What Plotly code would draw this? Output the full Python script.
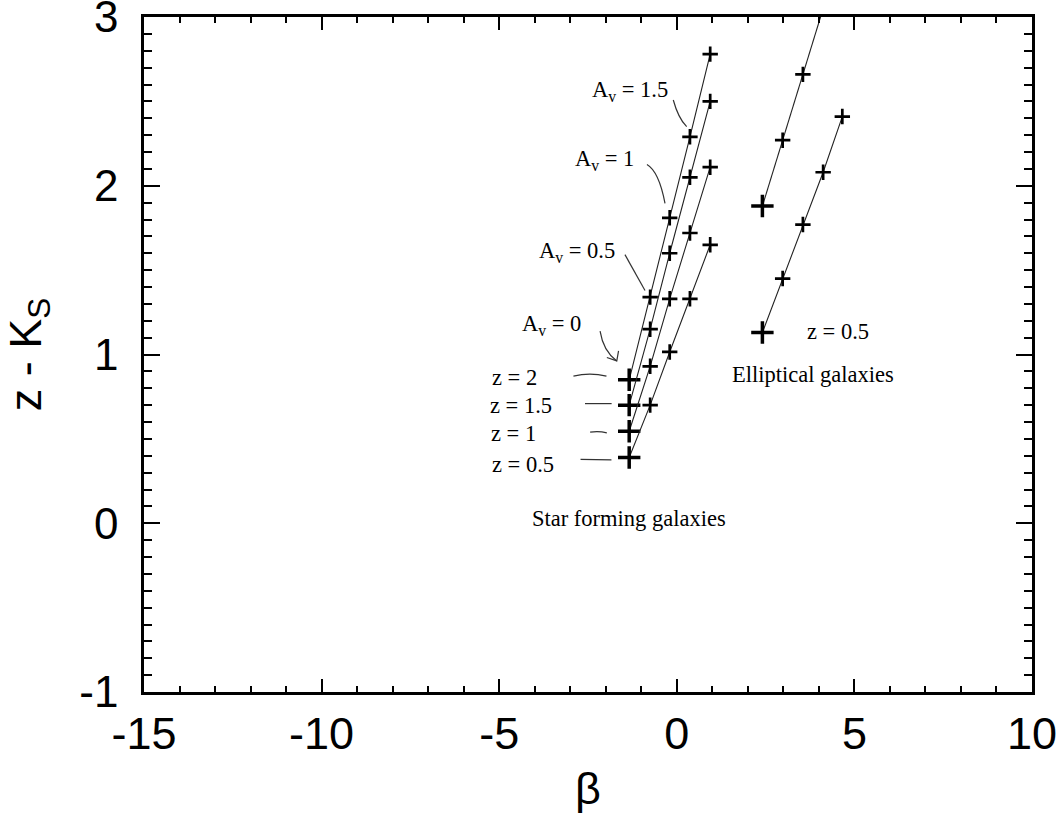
import plotly.graph_objects as go

# ---------------- data ----------------
# Star forming galaxies: reddening tracks, Av = 0, 0.5, 1, 1.5, 2
av_values = [0, 0.5, 1, 1.5, 2]
sf_beta = [-1.34, -0.75, -0.20, 0.37, 0.94]
sf_zk_z2 = [0.85, 1.34, 1.81, 2.29, 2.78]
sf_zk_z15 = [0.70, 1.15, 1.60, 2.05, 2.50]
sf_zk_z1 = [0.545, 0.93, 1.33, 1.72, 2.11]
sf_zk_z05 = [0.39, 0.70, 1.015, 1.33, 1.65]

# Elliptical galaxies
ell_a_beta = [2.41, 2.98, 3.55, 4.12]
ell_a_zk = [1.88, 2.27, 2.66, 3.05]
ell_b_beta = [2.41, 2.98, 3.55, 4.12, 4.66]
ell_b_zk = [1.13, 1.45, 1.77, 2.08, 2.41]

x_ticks = [-15, -10, -5, 0, 5, 10]
y_ticks = [-1, 0, 1, 2, 3]

# ---------------- figure ----------------
fig = go.Figure()

def track(xs, ys):
    fig.add_trace(go.Scatter(
        x=xs, y=ys, mode="lines",
        line=dict(color="#222222", width=1.1),
        cliponaxis=True, showlegend=False, hoverinfo="skip"))
    fig.add_trace(go.Scatter(
        x=xs[1:], y=ys[1:], mode="markers",
        marker=dict(symbol="cross-thin", size=11, color="black",
                    line=dict(color="black", width=2.7)),
        cliponaxis=True, showlegend=False, hoverinfo="skip"))
    fig.add_trace(go.Scatter(
        x=xs[:1], y=ys[:1], mode="markers",
        marker=dict(symbol="cross-thin", size=16, color="black",
                    line=dict(color="black", width=3.5)),
        cliponaxis=True, showlegend=False, hoverinfo="skip"))

for ys in [sf_zk_z2, sf_zk_z15, sf_zk_z1, sf_zk_z05]:
    track(sf_beta, ys)
track(ell_a_beta, ell_a_zk)
track(ell_b_beta, ell_b_zk)

serif = dict(family="Liberation Serif, Times New Roman, serif", size=22.5, color="black")

def label(x, y, text, xanchor="left"):
    fig.add_annotation(x=x, y=y, xref="x", yref="y", text=text, showarrow=False,
                       xanchor=xanchor, yanchor="middle", font=serif)

label(-5.26, 0.863, "z = 2")
label(-5.31, 0.696, "z = 1.5")
label(-5.29, 0.532, "z = 1")
label(-5.26, 0.351, "z = 0.5")
label(-4.41, 1.174, "A<sub>v</sub> = 0")
label(-3.94, 1.607, "A<sub>v</sub> = 0.5")
label(-2.93, 2.153, "A<sub>v</sub> = 1")
label(-2.44, 2.561, "A<sub>v</sub> = 1.5")
label(-4.13, 0.028, "Star forming galaxies")
label(1.50, 0.883, "Elliptical galaxies")
label(3.61, 1.139, "z = 0.5")

# hand-drawn connectors
paths = [
    "M -2.91,0.872 Q -2.45,0.895 -1.98,0.872",
    "M -2.585,0.709 L -1.835,0.709",
    "M -2.44,0.540 Q -2.2,0.548 -1.97,0.536",
    "M -2.71,0.378 L -1.84,0.376",
    "M -2.16,1.139 Q -2.07,1.021 -1.69,0.962",
    "M -1.64,1.021 L -1.69,0.962 L -1.97,0.982",
    "M -1.46,1.592 L -0.895,1.379",
    "M -0.84,2.126 Q -0.50,2.084 -0.332,1.895",
    "M -0.099,2.508 Q 0.042,2.399 0.278,2.35",
]
for p in paths:
    fig.add_shape(type="path", path=p, xref="x", yref="y",
                  line=dict(color="#333333", width=1.2))

x_font = dict(family="Liberation Sans, Arial, sans-serif", size=45, color="black")
y_font = dict(family="Liberation Sans, Arial, sans-serif", size=44, color="black")

fig.update_xaxes(
    range=[-15, 10], tickvals=x_ticks, ticktext=[str(v) for v in x_ticks],
    ticks="inside", ticklen=13, tickwidth=2, tickcolor="black",
    minor=dict(ticks="inside", dtick=1, ticklen=6, tickwidth=2, tickcolor="black"),
    showline=True, linecolor="black", linewidth=2.5, mirror="allticks",
    showgrid=False, zeroline=False, tickfont=x_font, ticklabelstandoff=0,
    ticklabeloverflow="allow",
    title=dict(text="β", font=x_font, standoff=28),
)
fig.update_yaxes(
    range=[-1, 3], tickvals=y_ticks, ticktext=[str(v) for v in y_ticks],
    ticks="inside", ticklen=16, tickwidth=2, tickcolor="black",
    minor=dict(ticks="inside", dtick=0.1, ticklen=8, tickwidth=2, tickcolor="black"),
    showline=True, linecolor="black", linewidth=2.5, mirror="allticks",
    showgrid=False, zeroline=False, tickfont=y_font, ticklabelstandoff=14,
    ticklabeloverflow="allow",
    title=dict(text="z - K<sub>S</sub>", font=x_font, standoff=30),
)

fig.update_layout(
    width=1062, height=814,
    margin=dict(l=144, r=30, t=17, b=122, autoexpand=False),
    paper_bgcolor="white", plot_bgcolor="white",
    showlegend=False,
)

fig.write_html("out.html")
